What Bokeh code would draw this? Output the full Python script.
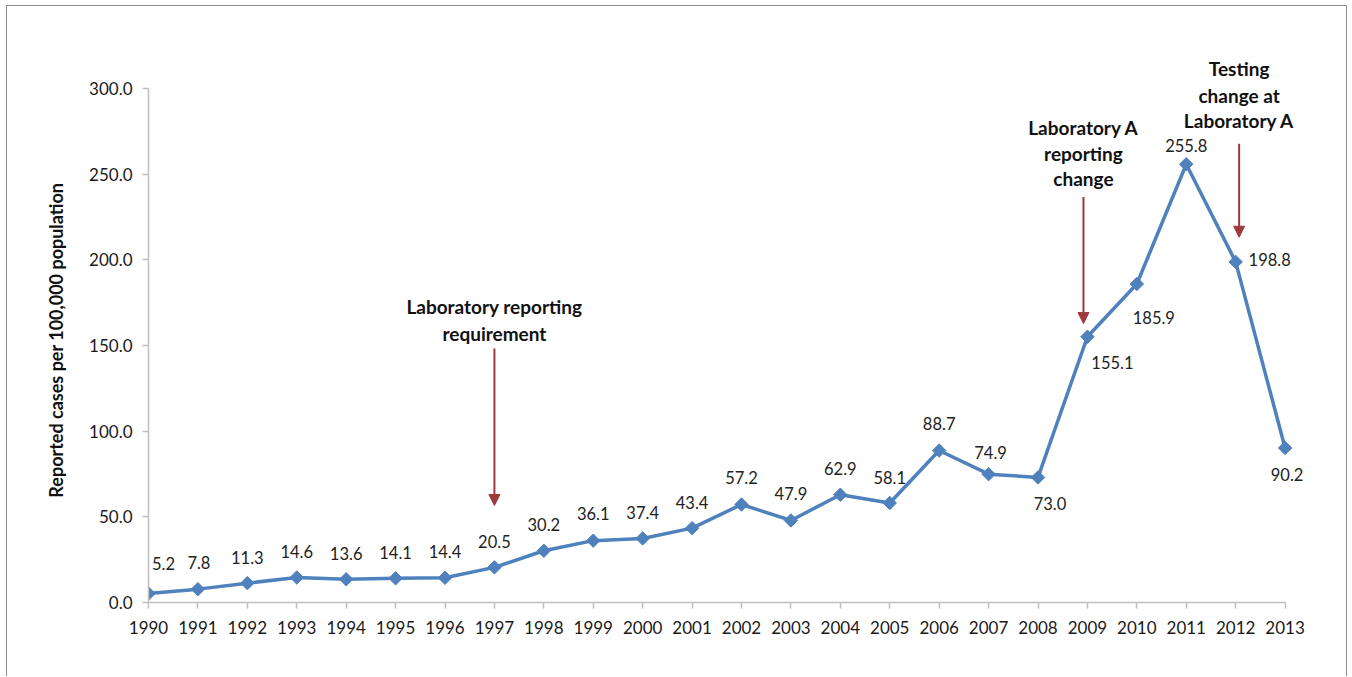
from bokeh.plotting import figure
from bokeh.models import (Range1d, FixedTicker, NumeralTickFormatter, Arrow,
                          NormalHead, ColumnDataSource)
from bokeh.core.properties import value
from bokeh.embed import file_html
from bokeh.resources import INLINE

# ---- data ----
years = list(range(1990, 2014))
rates = [5.2, 7.8, 11.3, 14.6, 13.6, 14.1, 14.4, 20.5, 30.2, 36.1, 37.4, 43.4,
         57.2, 47.9, 62.9, 58.1, 88.7, 74.9, 73.0, 155.1, 185.9, 255.8, 198.8, 90.2]
y_ticks = [0, 50, 100, 150, 200, 250, 300]
y_label = "Reported cases per 100,000 population"

# label offsets in screen px (dx, dy), reproduced from the reference placement
lbl_dx = [15, 1, 0, 0, 0, 0, 0, 0, 0, 0, 0, 0,
          0, 0, 0, 0, 0, 2, 12, 25, 17, 0, 34, 2]
lbl_dy = [-30, -27, -26, -26, -26, -26, -26, -26, -26, -27, -26, -26,
          -27, -27, -26, -25, -27, -22, 26, 26, 34, -19, -2, 27]

annotations = [
    (1997.0, [172.8, 157.0], ["Laboratory reporting", "requirement"], (148.2, 56.6)),
    (2008.92, [277.2, 262.1, 247.5], ["Laboratory A", "reporting", "change"], (236.6, 162.8)),
    (2012.07, [311.7, 296.1, 281.3], ["Testing", "change at", "Laboratory A"], (267.7, 213.2)),
]

FONT = "Lato"
BLUE = "#4F81BD"
RED = "#A0393B"

W, H = 1341, 671
p = figure(width=W, height=H, output_backend="svg", toolbar_location=None,
           x_range=Range1d(1990, 2014.0), y_range=Range1d(0, 329.18),
           min_border_left=141, min_border_right=14, min_border_top=32,
           min_border_bottom=75)
p.styles = {"margin-left": "6px", "margin-top": "5px",
            "border-left": "1px solid #8c8c8c", "border-top": "1px solid #8c8c8c",
            "border-right": "1px solid #8c8c8c"}
p.outline_line_color = None
p.xgrid.visible = False
p.ygrid.visible = False
p.background_fill_color = "white"
p.border_fill_color = "white"

# axes
p.xaxis.bounds = (1990, 2013)
p.yaxis.bounds = (0, 300)
p.xaxis.ticker = FixedTicker(ticks=years)
p.yaxis.ticker = FixedTicker(ticks=y_ticks)
p.yaxis.formatter = NumeralTickFormatter(format="0.0")
for ax in (p.xaxis[0], p.yaxis[0]):
    ax.axis_line_color = "#BFBFBF"
    ax.axis_line_width = 1.5
    ax.major_tick_line_color = "#BFBFBF"
    ax.major_tick_line_width = 1.5
    ax.major_tick_in = 0
    ax.major_tick_out = 6
    ax.minor_tick_line_color = None
    ax.major_label_text_font = FONT
    ax.major_label_text_font_size = "17px"
    ax.major_label_text_color = "#1a1a1a"
p.xaxis.major_label_standoff = 12
p.yaxis.major_label_standoff = 10

# y-axis title; trailing no-break spaces move it down onto the 0-300 span
p.yaxis.axis_label = y_label + "\u00a0" * 9
p.yaxis.axis_label_text_font = FONT
p.yaxis.axis_label_text_font_style = "bold"
p.yaxis.axis_label_text_font_size = "18px"
p.yaxis.axis_label_text_color = "#111111"
p.yaxis.axis_label_standoff = 19

src = ColumnDataSource(dict(x=years, y=rates, t=["%.1f" % r for r in rates],
                            dx=lbl_dx, dy=lbl_dy))
p.line("x", "y", source=src, line_color=BLUE, line_width=3.5)
p.scatter("x", "y", source=src, marker="square", size=9.5, angle=0.785398,
          fill_color=BLUE, line_color=BLUE)
p.text("x", "y", text="t", source=src, x_offset="dx", y_offset="dy",
       text_font=value(FONT), text_font_size="16.5px", text_color="#222222",
       text_align="center", text_baseline="middle")

for ax_x, ys, lines, (ya, yb) in annotations:
    p.text(x=[ax_x] * len(ys), y=ys, text=lines, text_font=value(FONT),
           text_font_size="19px", text_font_style="bold", text_color="#111111",
           text_align="center", text_baseline="middle")
    p.add_layout(Arrow(end=NormalHead(size=11, fill_color=RED, line_color=RED),
                       x_start=ax_x, y_start=ya, x_end=ax_x, y_end=yb,
                       line_color=RED, line_width=2))

open("out.html", "w").write(file_html(p, INLINE))
